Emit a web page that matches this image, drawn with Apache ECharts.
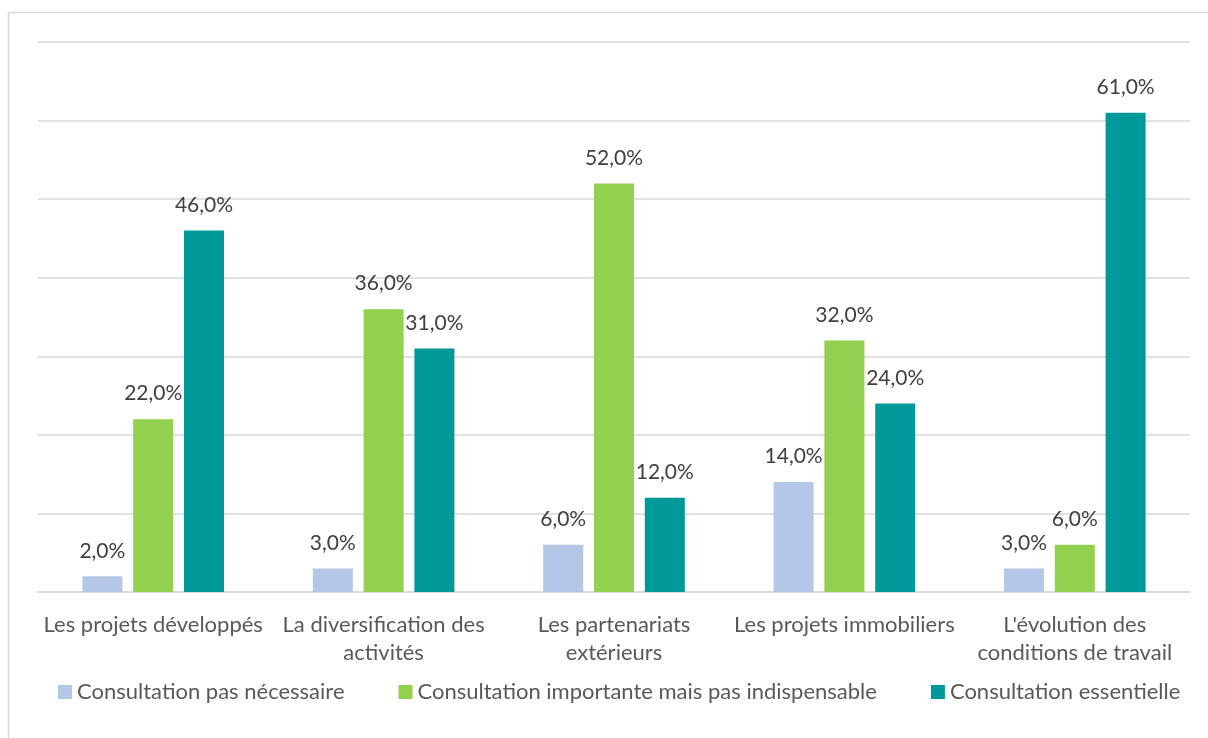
<!DOCTYPE html>
<html>
<head>
<meta charset="utf-8">
<script src="https://cdn.jsdelivr.net/npm/echarts@6/dist/echarts.min.js"></script>
<style>
  html, body { margin: 0; padding: 0; background: #fff; }
  #chart { width: 1208px; height: 738px; }
</style>
</head>
<body>
<div id="chart"></div>
<script>
const categories = [
  'Les projets développés',
  'La diversification des\nactivités',
  'Les partenariats\nextérieurs',
  'Les projets immobiliers',
  "L'évolution des\nconditions de travail"
];
const seriesNames = [
  'Consultation pas nécessaire',
  'Consultation importante mais pas indispensable',
  'Consultation essentielle'
];
const pasNecessaire = [2, 3, 6, 14, 3];
const importante = [22, 36, 52, 32, 6];
const essentielle = [46, 31, 12, 24, 61];
const colors = ['#B4C7E7', '#92D050', '#009999'];

const FONT = 'Lato, "Open Sans", sans-serif';

function fmt(p) { return p.value.toFixed(1).replace('.', ',') + '%'; }

function makeSeries(name, data, color) {
  return {
    name: name,
    type: 'bar',
    data: data,
    barWidth: 40,
    barGap: '27%',
    itemStyle: { color: color },
    label: {
      show: true,
      position: 'top',
      distance: 15,
      formatter: fmt,
      color: '#404040',
      fontSize: 21,
      fontFamily: FONT
    }
  };
}

const chart = echarts.init(document.getElementById('chart'), null, { renderer: 'canvas' });
chart.setOption({
  animation: false,
  backgroundColor: '#fff',
  color: colors,
  graphic: [{
    type: 'rect',
    shape: { x: 8.5, y: 12.5, width: 1300, height: 900 },
    style: { fill: 'none', stroke: '#d9d9d9', lineWidth: 1.5 },
    silent: true,
    z: -1
  }],
  grid: { left: 38, right: 18, top: 42, bottom: 146, containLabel: false },
  legend: {
    top: 676,
    left: 53,
    itemWidth: 14,
    itemHeight: 14,
    itemGap: 54,
    icon: 'rect',
    textStyle: { color: '#595959', fontSize: 22, fontFamily: FONT },
    data: seriesNames
  },
  xAxis: {
    type: 'category',
    data: categories,
    axisLine: { lineStyle: { color: '#d9d9d9', width: 1.5 } },
    axisTick: { show: false },
    axisLabel: {
      color: '#595959',
      fontSize: 22,
      fontFamily: FONT,
      lineHeight: 28,
      margin: 19,
      interval: 0
    }
  },
  yAxis: {
    type: 'value',
    min: 0,
    max: 70,
    interval: 10,
    axisLabel: { show: false },
    axisLine: { show: false },
    axisTick: { show: false },
    splitLine: { lineStyle: { color: '#d9d9d9', width: 1.5 } }
  },
  series: [
    makeSeries(seriesNames[0], pasNecessaire, colors[0]),
    makeSeries(seriesNames[1], importante, colors[1]),
    makeSeries(seriesNames[2], essentielle, colors[2])
  ]
});
</script>
</body>
</html>
